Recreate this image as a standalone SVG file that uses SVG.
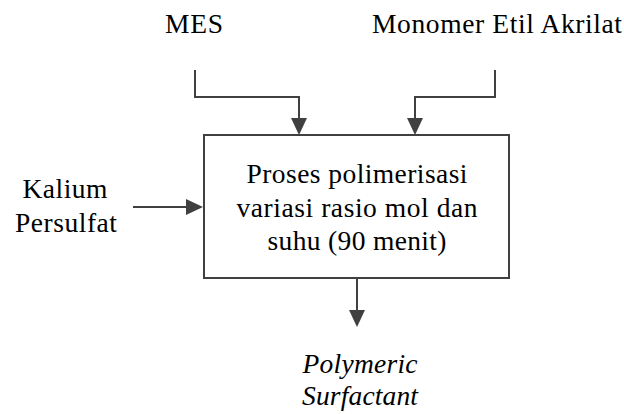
<svg xmlns="http://www.w3.org/2000/svg" width="624" height="414" viewBox="0 0 624 414">
<style>
text{font-family:"Liberation Serif","Times New Roman",serif;font-size:27.5px;fill:#000;text-anchor:middle}
.it{font-style:italic}
.ln{fill:none;stroke:#404040;stroke-width:2}
.box{fill:#fff;stroke:#404040;stroke-width:2}
</style>
<defs>
<marker id="ah" markerUnits="userSpaceOnUse" markerWidth="18" markerHeight="18" refX="0" refY="8" orient="auto" viewBox="0 0 18 16" overflow="visible">
<path d="M0,0 L17,8 L0,16 Z" fill="#404040"/>
</marker>
</defs>
<g id="connectors">
<path class="ln" d="M195,70 V97 H299 V118" marker-end="url(#ah)"/>
<path class="ln" d="M495,70 V97 H415 V118" marker-end="url(#ah)"/>
<path class="ln" d="M133,207 H186" marker-end="url(#ah)"/>
<path class="ln" d="M357,278 V310" marker-end="url(#ah)"/>
</g>
<g id="process">
<rect class="box" x="204" y="135" width="305" height="143"/>
<text x="357" y="183" textLength="221" lengthAdjust="spacing">Proses polimerisasi</text>
<text x="357" y="217" textLength="241" lengthAdjust="spacing">variasi rasio mol dan</text>
<text x="357" y="250" textLength="179" lengthAdjust="spacing">suhu (90 menit)</text>
</g>
<g id="mes">
<text x="194" y="33" textLength="58" lengthAdjust="spacing">MES</text>
</g>
<g id="monomer">
<text x="497" y="33" textLength="250" lengthAdjust="spacing">Monomer Etil Akrilat</text>
</g>
<g id="kalium">
<text x="65" y="198" textLength="85" lengthAdjust="spacing">Kalium</text>
<text x="66" y="232" textLength="102" lengthAdjust="spacing">Persulfat</text>
</g>
<g id="output">
<text class="it" x="360" y="373" textLength="115" lengthAdjust="spacing">Polymeric</text>
<text class="it" x="360" y="405" textLength="116" lengthAdjust="spacing">Surfactant</text>
</g>
</svg>
